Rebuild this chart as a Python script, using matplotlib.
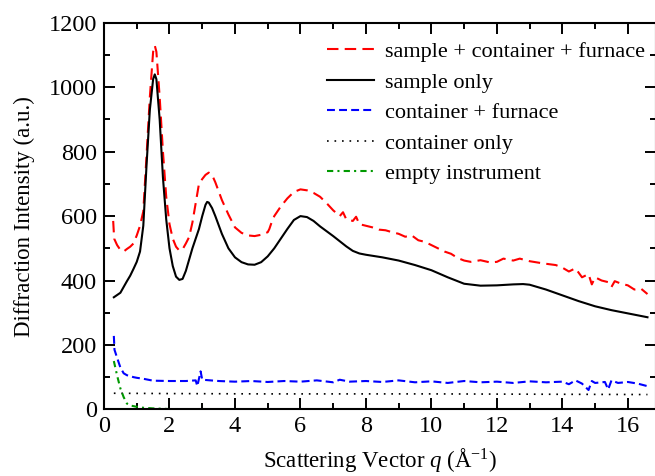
import matplotlib
matplotlib.use("Agg")
import matplotlib.pyplot as plt
from matplotlib.ticker import MultipleLocator

plt.rcParams['font.family'] = ['Liberation Serif', 'DejaVu Serif']
plt.rcParams['mathtext.fontset'] = 'custom'
plt.rcParams['mathtext.rm'] = 'Liberation Serif'
plt.rcParams['mathtext.it'] = 'Liberation Serif:italic'

# ---------------- data ----------------
q_sample = [0.3, 0.4, 0.5, 0.6, 0.7, 0.8, 0.9, 1.0, 1.1, 1.2, 1.3, 1.4, 1.5, 1.55, 1.6,
            1.7, 1.8, 1.9, 2.0, 2.1, 2.2, 2.3, 2.4, 2.5, 2.6, 2.7, 2.8, 2.9, 3.0, 3.1,
            3.15, 3.2, 3.3, 3.4, 3.6, 3.8, 4.0, 4.2, 4.4, 4.6, 4.8, 5.0, 5.2, 5.4, 5.6,
            5.8, 6.0, 6.2, 6.4, 6.6, 6.8, 7.0, 7.2, 7.4, 7.6, 7.8, 8.0, 8.5, 9.0, 9.5,
            10.0, 10.5, 11.0, 11.5, 12.0, 12.5, 12.8, 13.0, 13.5, 14.0, 14.5, 15.0,
            15.5, 16.0, 16.6]
i_sample = [348, 355, 362, 380, 398, 415, 436, 458, 490, 570, 760, 930, 1025, 1040, 1025,
            900, 720, 590, 500, 445, 412, 402, 405, 430, 465, 500, 530, 560, 600, 635,
            644, 642, 625, 600, 545, 500, 472, 457, 450, 449, 457, 475, 500, 530, 560,
            588, 600, 597, 585, 568, 553, 538, 522, 506, 492, 484, 480, 472, 462, 448,
            432, 410, 390, 384, 385, 388, 389, 387, 372, 354, 336, 320,
            308, 298, 286]

q_total = [0.28, 0.31, 0.4, 0.5, 0.6, 0.7, 0.8, 0.9, 1.0, 1.1, 1.2, 1.3, 1.4, 1.5, 1.55,
           1.6, 1.7, 1.8, 1.9, 2.0, 2.1, 2.2, 2.3, 2.4, 2.5, 2.6, 2.7, 2.8, 2.9, 3.0,
           3.1, 3.2, 3.3, 3.4, 3.6, 3.8, 4.0, 4.2, 4.4, 4.6, 4.8, 5.0, 5.05, 5.1, 5.2,
           5.4, 5.6, 5.8, 6.0, 6.2, 6.4, 6.6, 6.8, 7.0, 7.2, 7.3, 7.4, 7.6, 7.7, 7.8,
           8.0, 8.2, 8.4, 8.6, 8.8, 9.0, 9.2, 9.4, 9.6, 9.8, 10.0, 10.2, 10.4, 10.6,
           10.8, 11.0, 11.2, 11.5, 11.8, 12.0, 12.2, 12.5, 12.7, 13.0, 13.3, 13.5,
           13.8, 14.0, 14.2, 14.4, 14.6, 14.8, 14.9, 15.0, 15.2, 15.4, 15.5, 15.6,
           15.8, 16.0, 16.2, 16.4, 16.6]
i_total = [585, 530, 510, 495, 490, 498, 505, 515, 540, 570, 615, 790, 970, 1110, 1130,
           1110, 970, 800, 660, 575, 530, 505, 493, 497, 515, 535, 580, 640, 700, 715,
           728, 735, 728, 705, 650, 605, 565, 548, 540, 538, 542, 550, 560, 575, 600,
           630, 655, 675, 683, 680, 672, 660, 640, 618, 600, 612, 590, 585, 598, 575,
           570, 565, 558, 556, 550, 545, 536, 540, 525, 520, 510, 500, 490, 483,
           470, 462, 458, 463, 456, 458, 468, 462, 468, 460, 455, 452,
           448, 440, 428, 438, 410, 420, 388, 410, 400, 395, 380, 398,
           390, 385, 372, 375, 358]

q_cf = [0.3, 0.32, 0.4, 0.5, 0.6, 0.7, 0.8, 0.9, 1.0, 1.2, 1.5, 2.0, 2.5, 2.8, 2.85,
        2.95, 3.0, 3.5, 4.0, 4.5, 5.0, 5.5, 6.0, 6.5, 7.0, 7.2, 7.5, 8.0, 8.5, 9.0,
        9.5, 10.0, 10.5, 11.0, 11.5, 12.0, 12.5, 13.0, 13.5, 14.0, 14.2, 14.4, 14.6,
        14.8, 14.9, 15.0, 15.3, 15.4, 15.5, 15.7, 16.0, 16.3, 16.6]
i_cf = [228, 185, 160, 130, 112, 106, 103, 100, 98, 95, 89, 88, 88, 90, 72,
        118, 92, 88, 86, 88, 85, 88, 86, 90, 84, 92, 86, 88, 85, 90,
        84, 87, 82, 88, 84, 86, 82, 87, 84, 86, 78, 90, 80,
        60, 88, 82, 85, 62, 90, 82, 85, 80, 72]

q_cont = [0.3, 2.0, 5.0, 10.0, 16.6]
i_cont = [50, 49, 48, 48, 46]

q_empty = [0.3, 0.4, 0.5, 0.6, 0.7, 0.8, 1.0, 1.2, 1.5, 2.0, 3.0, 5.0, 16.6]
i_empty = [150, 105, 65, 38, 18, 12, 8, 5, 3, 1, 1, 0, 0]

labels = ["sample + container + furnace", "sample only", "container + furnace",
          "container only", "empty instrument"]

# ---------------- plot ----------------
fig = plt.figure(figsize=(6.55, 4.76), dpi=100)
ax = fig.add_axes([0.1588, 0.140, 0.8427, 0.812])

lw = 1.5
ax.plot(q_total, i_total, color='#ff0000', lw=lw, dashes=(5.5, 3), label=labels[0])
ax.plot(q_sample, i_sample, color='black', lw=lw, label=labels[1])
ax.plot(q_cf, i_cf, color='#0000ff', lw=lw, dashes=(3.8, 2), label=labels[2])
ax.plot(q_cont, i_cont, color='black', lw=1.2, dashes=(1, 3.5), label=labels[3])
ax.plot(q_empty, i_empty, color='#009900', lw=lw, dashes=(3, 2, 1, 2), label=labels[4])

ax.set_xlim(0, 16.86)
ax.set_ylim(0, 1200)
ax.xaxis.set_major_locator(MultipleLocator(2))
ax.xaxis.set_minor_locator(MultipleLocator(1))
ax.yaxis.set_major_locator(MultipleLocator(200))
ax.yaxis.set_minor_locator(MultipleLocator(100))
ax.tick_params(which='both', direction='in', top=True, right=True, width=1.4,
               labelsize=17.5)
ax.tick_params(which='major', length=8, pad=5)
ax.tick_params(which='minor', length=4)
for s in ax.spines.values():
    s.set_linewidth(1.5)

ax.set_xlabel(r"Scattering Vector $q$ ($\mathrm{\AA}^{-1}$)", fontsize=16.5, labelpad=6)
ax.set_ylabel("Diffraction Intensity (a.u.)", fontsize=16.5, labelpad=10)

ax.legend(loc='upper left', bbox_to_anchor=(0.404, 0.952), frameon=False,
          fontsize=16, handlelength=2.1, handletextpad=0.5, labelspacing=0.45,
          borderaxespad=0, borderpad=0)

fig.savefig("out.png", dpi=100)
